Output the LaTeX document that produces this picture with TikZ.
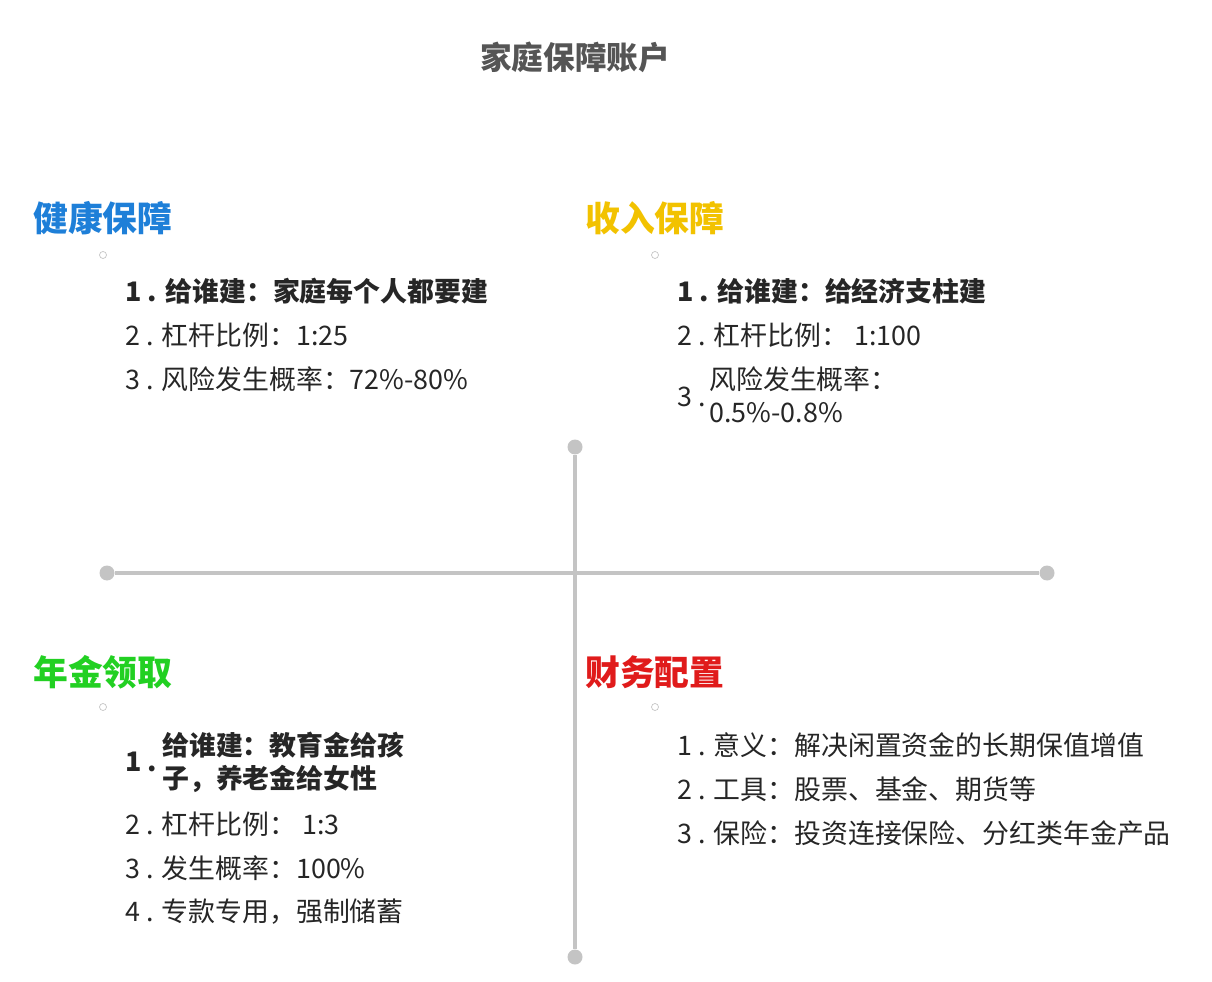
\documentclass[tikz,border=0pt]{standalone}
\usepackage{fontspec}
\setmainfont{Noto Sans CJK SC}
\definecolor{axis}{HTML}{C4C4C4}
\definecolor{hblue}{HTML}{1E7FD8}
\definecolor{hgold}{HTML}{F2C200}
\definecolor{hgreen}{HTML}{22D022}
\definecolor{hred}{HTML}{E01B1B}
\definecolor{titlec}{HTML}{555555}
\begin{document}
\begin{tikzpicture}[x=0.02cm,y=-0.02cm,
  head/.style={anchor=west,font=\fontsize{19.8}{22}\selectfont\bfseries,inner sep=0},
  item/.style={anchor=west,font=\fontsize{15.3}{20}\selectfont,inner sep=0,text=black!85},
  bitem/.style={item,font=\fontsize{15.3}{20}\selectfont\bfseries},
  dot/.style={circle,fill=axis,inner sep=0,minimum size=0.3cm},
  tiny/.style={circle,draw=axis,inner sep=0,minimum size=0.14cm}]
\useasboundingbox (0,0) rectangle (1212,982);
\node[font=\fontsize{18}{20}\selectfont\bfseries,text=titlec] (title) at (575,57) {家庭保障账户};
\node[dot] (t) at (575,447) {};
\node[dot] (b) at (575,957) {};
\node[dot] (l) at (107,573) {};
\node[dot] (r) at (1047,573) {};
\draw[axis,line width=1.8pt] (t) -- (b);
\draw[axis,line width=1.8pt] (l) -- (r);
\node[head,text=hblue] (h1) at (33,218) {健康保障};
\node[head,text=hgold] (h2) at (585,218) {收入保障};
\node[head,text=hgreen] (h3) at (33,672) {年金领取};
\node[head,text=hred] (h4) at (585,672) {财务配置};
\node[tiny] (c1) at (103,255) {};
\node[tiny] (c2) at (655,255) {};
\node[tiny] (c3) at (103,707) {};
\node[tiny] (c4) at (655,707) {};
% health
\node[bitem] (a1) at (125,291) {1 . 给谁建：家庭每个人都要建};
\node[item] (a2) at (125,335) {2 . 杠杆比例：1:25};
\node[item] (a3) at (125,379) {3 . 风险发生概率：72\%-80\%};
% income
\node[bitem] (b1) at (677,291) {1 . 给谁建：给经济支柱建};
\node[item] (b2) at (677,335) {2 . 杠杆比例：\ 1:100};
\node[item] (b3n) at (677,397) {3 .};
\node[item] (b3a) at (709,379) {风险发生概率：};
\node[item] (b3b) at (709,413) {0.5\%-0.8\%};
% annuity
\node[bitem] (c1n) at (125,762) {1 .};
\node[bitem] (c1a) at (162,745) {给谁建：教育金给孩};
\node[bitem] (c1b) at (162,779) {子，养老金给女性};
\node[item] (c2i) at (125,824) {2 . 杠杆比例：\ 1:3};
\node[item] (c3i) at (125,868) {3 . 发生概率：100\%};
\node[item] (c4i) at (125,912) {4 . 专款专用，强制储蓄};
% finance
\node[item] (d1) at (677,745) {1 . 意义：解决闲置资金的长期保值增值};
\node[item] (d2) at (677,789) {2 . 工具：股票、基金、期货等};
\node[item] (d3) at (677,833) {3 . 保险：投资连接保险、分红类年金产品};
\end{tikzpicture}
\end{document}
